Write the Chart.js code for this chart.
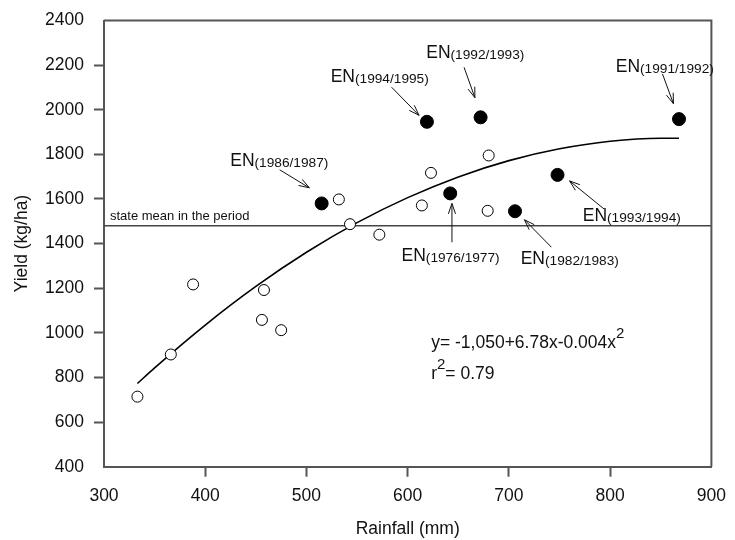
<!DOCTYPE html>
<html>
<head>
<meta charset="utf-8">
<script src="https://cdn.jsdelivr.net/npm/chart.js@4.4.0/dist/chart.umd.min.js"></script>
<style>
    body { margin: 0; background: #fff; }
    #wrap { width: 735px; height: 540px; position: relative; }
</style>
</head>
<body>
<div id="wrap"><canvas id="yieldChart"></canvas></div>
<script>
// non El Nino years (open circles)
const rainfallOpen = [333, 366, 388, 456, 458, 475, 532, 543, 572, 614, 623, 679, 680];
const yieldOpen = [714, 903, 1217, 1058, 1192, 1012, 1598, 1487, 1440, 1571, 1717, 1547, 1795];

// El Nino years (filled circles)
const rainfallEN = [515, 619, 642, 672, 706, 748, 868];
const yieldEN = [1580, 1946, 1625, 1966, 1545, 1708, 1958];
const seasonsEN = ['(1986/1987)', '(1994/1995)', '(1976/1977)', '(1992/1993)', '(1982/1983)', '(1993/1994)', '(1991/1992)'];

// fitted curve
const fitRainfall = [333, 350, 400, 450, 500, 550, 600, 650, 700, 750, 800, 850, 868];
const fitYield = [773, 843, 1035, 1208, 1361, 1494, 1606, 1699, 1772, 1825, 1859, 1872, 1872];

const stateMean = 1480;
const xTicks = [300, 400, 500, 600, 700, 800, 900];
const yTicks = [400, 600, 800, 1000, 1200, 1400, 1600, 1800, 2000, 2200, 2400];

// where each EN label and its arrow sit, in data units (same order as seasonsEN)
const labelSpots = [
    { tx: 424.7, ty: 1749, from: [473.5, 1731], to: [502.8, 1650] },
    { tx: 523.9, ty: 2125, from: [584.1, 2101], to: [611.2, 1975] },
    { tx: 593.9, ty: 1320, from: [643.7, 1406], to: [643.7, 1580] },
    { tx: 618.3, ty: 2234, from: [655.7, 2190], to: [666.4, 2054] },
    { tx: 711.6, ty: 1310, from: [741.9, 1384], to: [715.3, 1507] },
    { tx: 772.9, ty: 1502, from: [794.0, 1555], to: [759.9, 1681] },
    { tx: 805.5, ty: 2170, from: [851.7, 2160], to: [862.5, 2027] }
];

const FONT = '"Liberation Sans", Arial, sans-serif';
const INK = '#111';
const AXIS = '#555';

function pairs(xs, ys) {
    return xs.map((x, i) => ({ x: x, y: ys[i] }));
}

function drawArrow(ctx, x1, y1, x2, y2) {
    const ang = Math.atan2(y2 - y1, x2 - x1);
    const len = 11, spread = 0.33;
    ctx.beginPath();
    ctx.moveTo(x1, y1);
    ctx.lineTo(x2, y2);
    ctx.moveTo(x2 - len * Math.cos(ang - spread), y2 - len * Math.sin(ang - spread));
    ctx.lineTo(x2, y2);
    ctx.lineTo(x2 - len * Math.cos(ang + spread), y2 - len * Math.sin(ang + spread));
    ctx.stroke();
}

const extrasPlugin = {
    id: 'extras',
    afterDatasetsDraw(chart) {
        const { ctx, chartArea, scales } = chart;
        const sx = scales.x, sy = scales.y;
        ctx.save();

        // top and right frame
        ctx.strokeStyle = AXIS;
        ctx.lineWidth = 2;
        ctx.beginPath();
        ctx.moveTo(chartArea.left, chartArea.top);
        ctx.lineTo(chartArea.right, chartArea.top);
        ctx.lineTo(chartArea.right, chartArea.bottom);
        ctx.stroke();

        ctx.fillStyle = INK;
        ctx.textBaseline = 'alphabetic';
        ctx.textAlign = 'left';

        // state mean label
        ctx.font = '13px ' + FONT;
        ctx.fillText('state mean in the period', sx.getPixelForValue(305.9), sy.getPixelForValue(1507));

        // EN labels with arrows
        ctx.strokeStyle = INK;
        ctx.lineWidth = 1;
        labelSpots.forEach((s, i) => {
            const px = sx.getPixelForValue(s.tx);
            const py = sy.getPixelForValue(s.ty);
            ctx.font = '17.5px ' + FONT;
            ctx.fillText('EN', px, py);
            const w = ctx.measureText('EN').width;
            ctx.font = '13.7px ' + FONT;
            ctx.fillText(seasonsEN[i], px + w, py + 1);
            drawArrow(ctx,
                sx.getPixelForValue(s.from[0]), sy.getPixelForValue(s.from[1]),
                sx.getPixelForValue(s.to[0]), sy.getPixelForValue(s.to[1]));
        });

        // regression equation
        const ex = sx.getPixelForValue(623.2);
        const ey = sy.getPixelForValue(931);
        ctx.font = '17.5px ' + FONT;
        const eq = 'y= -1,050+6.78x-0.004x';
        ctx.fillText(eq, ex, ey);
        const eqW = ctx.measureText(eq).width;
        const ry = sy.getPixelForValue(794);
        ctx.fillText('r', ex, ry);
        const rW = ctx.measureText('r').width;
        ctx.font = '15px ' + FONT;
        ctx.fillText('2', ex + eqW, ey - 10);
        ctx.fillText('2', ex + rW, ry - 10);
        const r2W = ctx.measureText('2').width;
        ctx.font = '17.5px ' + FONT;
        ctx.fillText('= 0.79', ex + rW + r2W, ry);

        ctx.restore();
    }
};

function edgeTickColor(count) {
    return function (c) {
        return (c.index === 0 || c.index === count - 1) ? 'rgba(0,0,0,0)' : AXIS;
    };
}

const ctx = document.getElementById('yieldChart').getContext('2d');
new Chart(ctx, {
    type: 'scatter',
    data: {
        datasets: [
            {
                label: 'El Nino years',
                data: pairs(rainfallEN, yieldEN),
                pointRadius: 6.5,
                backgroundColor: '#000',
                borderColor: '#000',
                borderWidth: 1
            },
            {
                label: 'other years',
                data: pairs(rainfallOpen, yieldOpen),
                pointRadius: 5.5,
                backgroundColor: '#fff',
                borderColor: '#000',
                borderWidth: 1
            },
            {
                label: 'fit',
                data: pairs(fitRainfall, fitYield),
                showLine: true,
                pointRadius: 0,
                borderColor: '#000',
                borderWidth: 1.6,
                cubicInterpolationMode: 'monotone'
            },
            {
                label: 'state mean',
                data: [{ x: xTicks[0], y: stateMean }, { x: xTicks[xTicks.length - 1], y: stateMean }],
                showLine: true,
                pointRadius: 0,
                borderColor: '#444',
                borderWidth: 1.5
            }
        ]
    },
    options: {
        responsive: true,
        maintainAspectRatio: false,
        animation: false,
        layout: { padding: { left: 0, top: 16, right: 16.5, bottom: 0 } },
        plugins: {
            legend: { display: false },
            tooltip: { enabled: false }
        },
        scales: {
            x: {
                type: 'linear',
                min: xTicks[0],
                max: xTicks[xTicks.length - 1],
                afterBuildTicks: scale => { scale.ticks = xTicks.map(v => ({ value: v })); },
                afterFit: scale => { scale.height = 73.3; },
                border: { display: true, color: AXIS, width: 2 },
                grid: { drawOnChartArea: false, drawTicks: true, tickLength: 10, tickWidth: 2, tickColor: edgeTickColor(xTicks.length) },
                ticks: { color: INK, padding: 9, font: { family: FONT, size: 17.5 }, callback: v => String(v) },
                title: { display: true, text: 'Rainfall (mm)', color: INK, padding: { top: 0, bottom: 0 }, font: { family: FONT, size: 17.5 } }
            },
            y: {
                type: 'linear',
                min: yTicks[0],
                max: yTicks[yTicks.length - 1],
                afterBuildTicks: scale => { scale.ticks = yTicks.map(v => ({ value: v })); },
                afterFit: scale => { scale.width = 104; },
                border: { display: true, color: AXIS, width: 2 },
                grid: { drawOnChartArea: false, drawTicks: true, tickLength: 10, tickWidth: 2, tickColor: edgeTickColor(yTicks.length) },
                ticks: { color: INK, padding: 10, font: { family: FONT, size: 17.5 }, callback: v => String(v) },
                title: { display: true, text: 'Yield (kg/ha)', color: INK, padding: { top: 12, bottom: 12 }, font: { family: FONT, size: 17.5 } }
            }
        }
    },
    plugins: [extrasPlugin]
});
</script>
</body>
</html>
